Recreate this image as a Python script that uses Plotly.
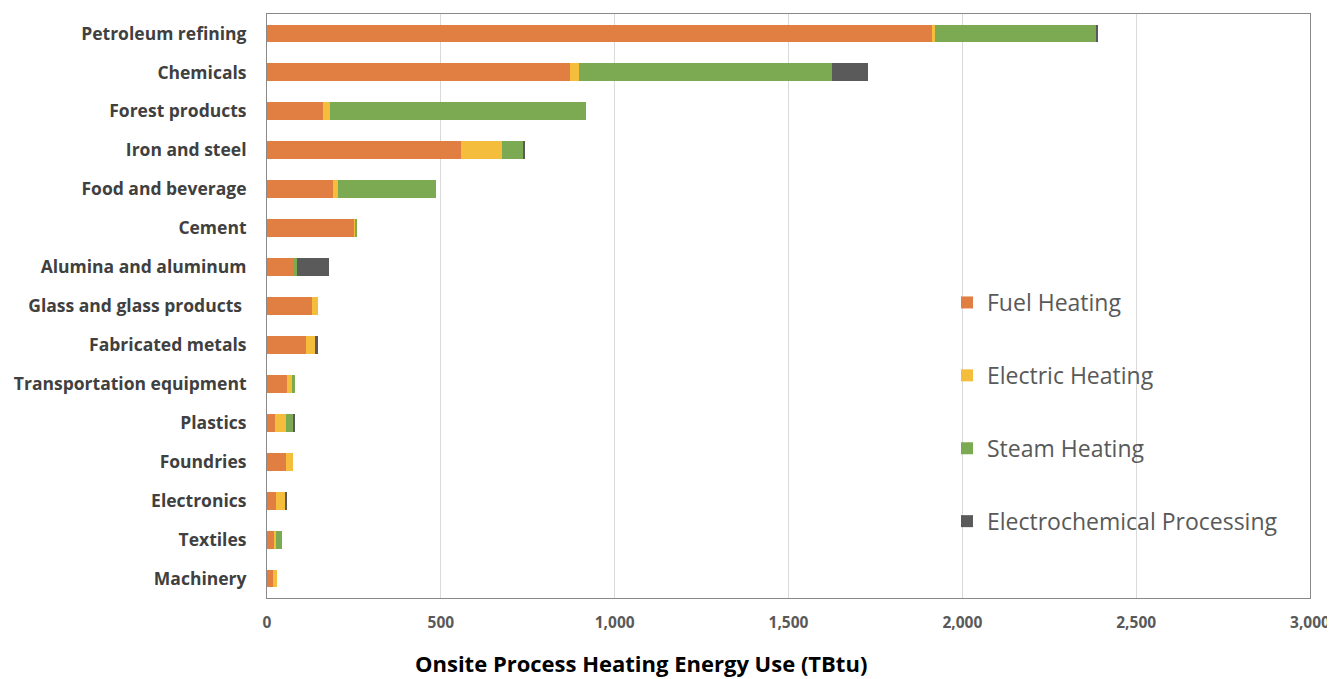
import plotly.graph_objects as go

categories = ["Petroleum refining", "Chemicals", "Forest products", "Iron and steel",
              "Food and beverage", "Cement", "Alumina and aluminum", "Glass and glass products ",
              "Fabricated metals", "Transportation equipment", "Plastics", "Foundries",
              "Electronics", "Textiles", "Machinery"]
fuel_heating = [1915, 872, 162, 558, 191, 252, 78, 130, 113, 58, 24, 55, 26, 22, 16]
electric_heating = [5, 24, 18, 119, 12, 3, 2, 17, 24, 15, 31, 20, 25, 4, 12]
steam_heating = [466, 729, 737, 60, 282, 2, 5, 0, 0, 8, 20, 0, 0, 18, 0]
electrochemical = [2, 104, 0, 5, 0, 0, 92, 0, 10, 0, 3, 0, 6, 0, 0]
x_ticks = [0, 500, 1000, 1500, 2000, 2500, 3000]

series = [
    ("Fuel Heating", fuel_heating, "#E07F41"),
    ("Electric Heating", electric_heating, "#F4BD3C"),
    ("Steam Heating", steam_heating, "#7BAA52"),
    ("Electrochemical Processing", electrochemical, "#5A5A5A"),
]

fig = go.Figure()
for i, (name, vals, col) in enumerate(series):
    fig.add_trace(go.Bar(
        y=categories, x=vals, name=name, orientation="h",
        marker=dict(color=col, line=dict(width=0)),
        width=0.46, legendgroup=str(i),
    ))

# page body has an 8px default margin: compensate
W, H = 1327, 671
L, T, R, B = 259, 6, 25, 81
plot_w = W - L - R
plot_h = H - T - B

fig.update_layout(
    barmode="stack",
    width=W, height=H,
    margin=dict(l=L, r=R, t=T, b=B, autoexpand=False),
    plot_bgcolor="white", paper_bgcolor="white",
    font=dict(family="Open Sans", color="#595959"),
    showlegend=True,
    legend=dict(x=(947 - 267) / plot_w, y=(598 - 412) / plot_h, xanchor="left", yanchor="middle",
                font=dict(size=23, color="#595959", family="Open Sans"),
                tracegroupgap=40, bgcolor="rgba(0,0,0,0)", itemwidth=30),
    xaxis=dict(range=[0, 3000], tickvals=x_ticks,
               ticktext=[f"{v:,}" for v in x_ticks],
               showgrid=True, gridcolor="#D9D9D9", gridwidth=1,
               tickfont=dict(size=15.5, color="#595959", family="Open Sans", weight="bold"),
               showline=True, linecolor="#898989", linewidth=1, mirror=True,
               zeroline=False, ticks="", ticklabelstandoff=10),
    yaxis=dict(autorange="reversed", categoryorder="array", categoryarray=categories,
               tickfont=dict(size=17.5, color="#404040", family="Open Sans", weight="bold"),
               showline=True, linecolor="#898989", linewidth=1, mirror=True,
               ticks="", ticklabelstandoff=16, showgrid=False),
    annotations=[dict(text="<b>Onsite Process Heating Energy Use (TBtu)</b>",
                      x=(641 - 267) / plot_w, xref="paper",
                      y=-(663 - 598) / plot_h, yref="paper", yanchor="middle",
                      showarrow=False,
                      font=dict(size=22, color="#000000", family="Open Sans"))],
)

fig.write_html("out.html")
